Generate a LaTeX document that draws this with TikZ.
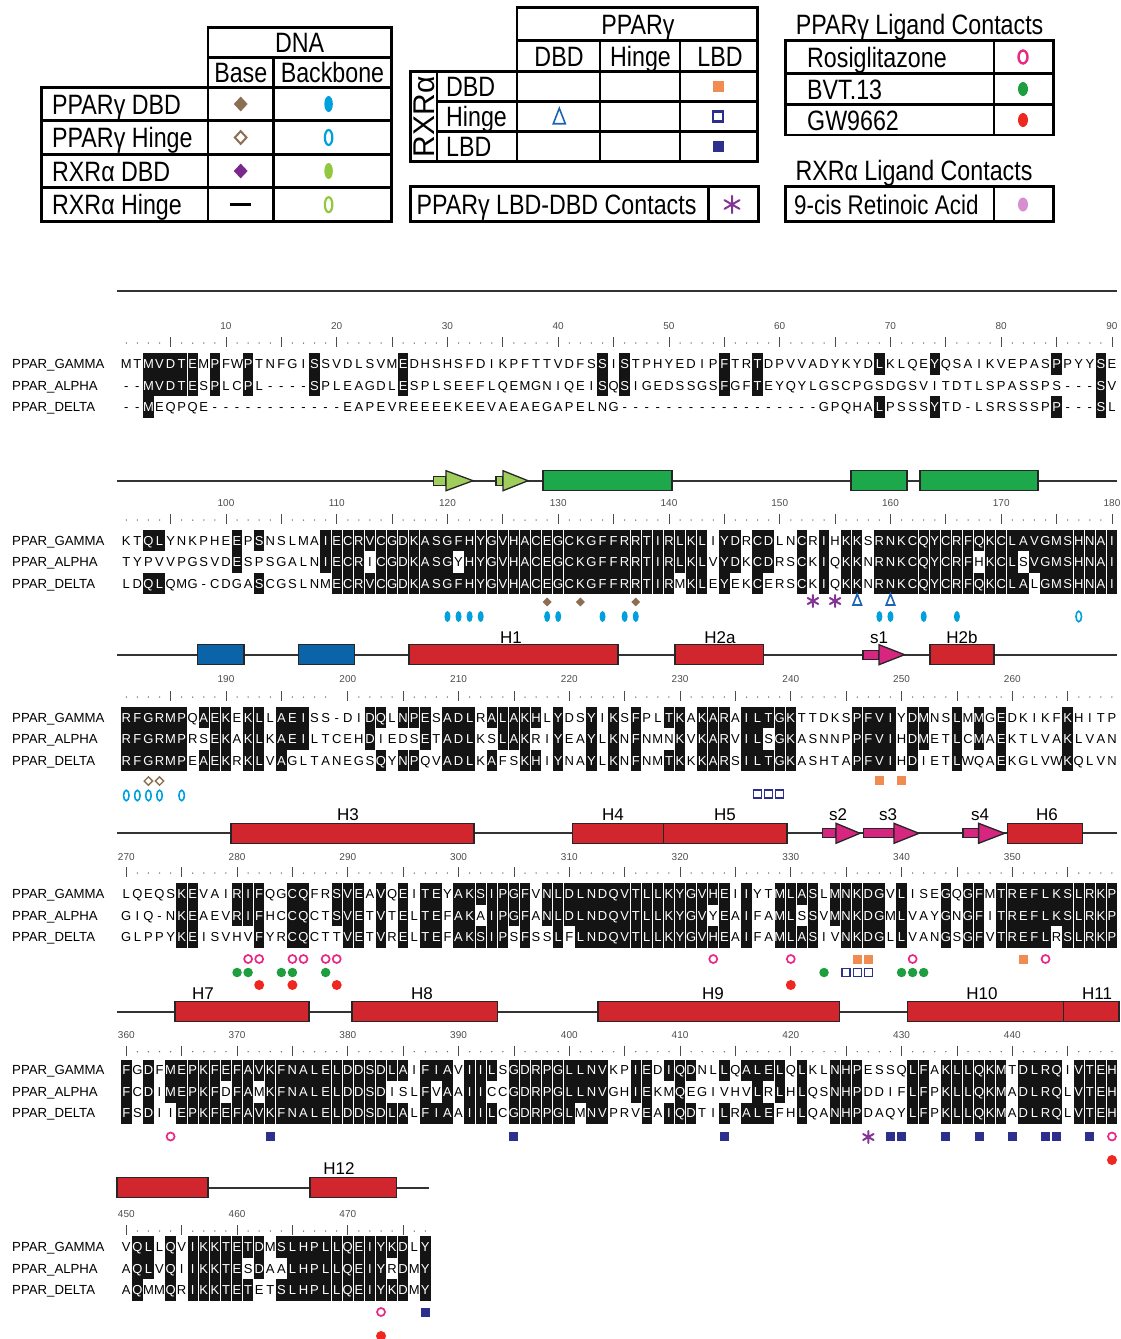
\documentclass[tikz,border=0pt]{standalone}
\usepackage{fontspec}
\setmainfont{Liberation Sans}
\newfontfamily\lgdfont[FakeStretch=0.83]{Liberation Sans}
\usepackage{xstring}
\usetikzlibrary{shapes.geometric}

\definecolor{basebrown}{RGB}{140,110,82}
\definecolor{bbcyan}{RGB}{0,160,220}
\definecolor{rxrpurple}{RGB}{122,40,140}
\definecolor{rxrgreen}{RGB}{146,200,62}
\definecolor{ifaceorange}{RGB}{240,140,82}
\definecolor{ifaceblue}{RGB}{28,100,178}
\definecolor{ifacenavy}{RGB}{44,48,140}
\definecolor{ligpink}{RGB}{232,40,132}
\definecolor{liggreen}{RGB}{30,158,62}
\definecolor{ligred}{RGB}{238,40,32}
\definecolor{ligmauve}{RGB}{214,142,206}
\definecolor{ldpurple}{RGB}{132,52,150}
\definecolor{helixred}{RGB}{210,38,46}
\definecolor{dbdgreen}{RGB}{30,168,76}
\definecolor{strandgreen}{RGB}{160,206,92}
\definecolor{hingeblue}{RGB}{12,100,168}
\definecolor{strandpink}{RGB}{214,38,128}

\tikzset{
  lgd/.style={font=\lgdfont\fontsize{28}{28}\selectfont, inner sep=0, anchor=base},
  lgdline/.style={line width=2.8},
  seqname/.style={font=\fontsize{13.2}{13.2}\selectfont, anchor=base west, inner sep=0},
  res/.style={font=\fontsize{13}{13}\selectfont, anchor=base, inner sep=0},
  hl/.style={fill=black!92},
  rtick/.style={line width=0.8, black!70},
  rdot/.style={fill=black!60},
  rnum/.style={font=\fontsize{10}{10}\selectfont, text=black!70, inner sep=0},
  track/.style={line width=2, black!80},
  sselt/.style={draw=black!85, line width=1.3},
  sslabel/.style={font=\fontsize{17}{17}\selectfont, inner sep=0, anchor=base},
  basefill/.style={diamond, fill=basebrown, inner sep=0, minimum width=9, minimum height=9},
  baseopen/.style={diamond, draw=basebrown, line width=1.4, fill=white, inner sep=0, minimum width=9, minimum height=9},
  bbfill/.style={ellipse, fill=bbcyan, inner sep=0, minimum width=6, minimum height=11},
  bbopen/.style={ellipse, draw=bbcyan, line width=1.6, inner sep=0, minimum width=5.5, minimum height=10.5},
  sqorange/.style={rectangle, fill=ifaceorange, inner sep=0, minimum size=9},
  sqnavy/.style={rectangle, fill=ifacenavy, inner sep=0, minimum size=9},
  sqnavyopen/.style={rectangle, draw=ifacenavy, line width=1.5, inner sep=0, minimum size=8},
  rosi/.style={circle, draw=ligpink, line width=1.7, inner sep=0, minimum size=8},
  bvt/.style={circle, fill=liggreen, inner sep=0, minimum size=9.5},
  gw/.style={circle, fill=ligred, inner sep=0, minimum size=10},
  pics/ldstar/.style={code={\draw[ldpurple, line width=2, line cap=round] (0,-6) -- (0,6) (-5.2,-3) -- (5.2,3) (-5.2,3) -- (5.2,-3);}},
  pics/hingetri/.style={code={\draw[ifaceblue, line width=1.6] (-4.3,5) -- (0,-6) -- (4.3,5) -- cycle;}}
}

\newcommand{\colx}[1]{126.3+(#1-1)*11.075}
\newcommand{\residue}[4]{%
  \ifnum#4=1
    \fill[hl] (#1-5.2,#2-10.75) rectangle (#1+5.2,#2+10.75);
    \node[res,text=white] at (#1,#2+4.6) {#3};
  \else
    \node[res] at (#1,#2+4.6) {#3};
  \fi}
% one alignment block: gamma row y, then the three sequences
\newcommand{\alnblock}[4]{%
  \node[seqname] at (12,#1+4.6) {PPAR\_GAMMA};
  \node[seqname] at (12,#1+26.1) {PPAR\_ALPHA};
  \node[seqname] at (12,#1+47.6) {PPAR\_DELTA};
  \StrLen{#2}[\ncols]%
  \foreach \cl in {1,...,\ncols}{%
    \pgfmathsetmacro{\xc}{\colx{\cl}}%
    \StrChar{#2}{\cl}[\rg]\StrChar{#3}{\cl}[\ra]\StrChar{#4}{\cl}[\rd]%
    \def\ka{0}\def\kd{0}\def\kg{0}%
    \ifx\rg\ra\def\ka{1}\def\kg{1}\fi
    \ifx\rg\rd\def\kd{1}\def\kg{1}\fi
    \residue{\xc}{#1}{\rg}{\kg}%
    \residue{\xc}{#1+21.5}{\ra}{\ka}%
    \residue{\xc}{#1+43}{\rd}{\kd}%
  }}
% ruler y, number y, first number, columns, gap column
\newcommand{\seqruler}[5]{%
  \foreach \cl in {1,...,#4}{%
    \pgfmathsetmacro{\xc}{\colx{\cl}}%
    \pgfmathtruncatemacro{\rpos}{#3+\cl-1-(\cl>#5)}%
    \pgfmathtruncatemacro{\mfive}{mod(\rpos,5)}%
    \pgfmathtruncatemacro{\mten}{mod(\rpos,10)}%
    \ifnum\cl=#5\relax\else
      \ifnum\mfive=0
        \draw[rtick] (\xc,#1-5) -- (\xc,#1+5);
        \ifnum\mten=0 \node[rnum] at (\xc,#2) {\rpos};\fi
      \else
        \fill[rdot] (\xc,#1+1) circle (0.75);
      \fi
    \fi}}
\newcommand{\helixbox}[4]{\draw[sselt,fill=#4] (#1,#3-10) rectangle (#2,#3+10);}
\newcommand{\strandarrow}[5]{%
  \draw[sselt,fill=#5] (#1,#4-4.5) rectangle (#2,#4+4.5);
  \draw[sselt,fill=#5] (#2,#4-10) -- (#3,#4) -- (#2,#4+10) -- cycle;}
\newcommand{\contactmarks}[3]{\foreach \cl in {#3}{\node[#1] at ({\colx{\cl}},#2) {};}}

\begin{document}
\begin{tikzpicture}[x=1pt, y=-1pt]
\useasboundingbox (0,0) rectangle (1120,1339);

% DNA contacts legend
\draw[lgdline] (208,27.7) rectangle (391.4,57.3);
\draw[lgdline] (208,57.3) rectangle (391.4,87.3);
\draw[lgdline] (273.6,57.3) -- (273.6,87.3);
\draw[lgdline] (41.4,87.3) rectangle (391.4,221.7);
\foreach \y in {120.7,154.3,187.7} \draw[lgdline] (41.4,\y) -- (391.4,\y);
\foreach \x in {208,273.6} \draw[lgdline] (\x,87.3) -- (\x,221.7);
\node[lgd] at (299.7,52.5) {DNA};
\node[lgd] at (240.8,82.3) {Base};
\node[lgd] at (332.5,82.3) {Backbone};
\foreach \y/\lab in {104/PPARγ DBD, 137.5/PPARγ Hinge, 171/RXRα DBD, 204.7/RXRα Hinge}
  \node[lgd, anchor=base west] at (52,\y+10) {\lab};
\node[basefill, minimum width=14, minimum height=15] at (240.7,104) {};
\node[bbfill, minimum width=8.5, minimum height=16] at (328.6,104) {};
\node[baseopen, minimum width=12.5, minimum height=13.5, line width=2] at (240.7,137.5) {};
\node[bbopen, minimum width=7.5, minimum height=15, line width=2.2] at (328.6,137.5) {};
\node[basefill, fill=rxrpurple, minimum width=14, minimum height=15] at (240.7,171) {};
\node[bbfill, fill=rxrgreen, minimum width=8.5, minimum height=16] at (328.6,171) {};
\draw[line width=2.8] (230,204.7) -- (251,204.7);
\node[bbopen, draw=rxrgreen, minimum width=7.5, minimum height=15, line width=2.2] at (328.6,204.7) {};

% PPARγ / RXRα interface legend
\draw[lgdline] (517,7.3) rectangle (757.5,40.7);
\draw[lgdline] (517,40.7) rectangle (757.5,71.7);
\draw[lgdline] (410.7,71.7) rectangle (757.5,161.7);
\foreach \x in {600,680} \draw[lgdline] (\x,40.7) -- (\x,161.7);
\foreach \x in {437,517} \draw[lgdline] (\x,71.7) -- (\x,161.7);
\foreach \y in {101.7,131.7} \draw[lgdline] (437,\y) -- (757.5,\y);
\node[lgd] at (638,34) {PPARγ};
\foreach \x/\lab in {559/DBD, 640.5/Hinge, 720/LBD} \node[lgd] at (\x,66.2) {\lab};
\node[lgd, anchor=center, rotate=90, font=\fontsize{30}{30}\selectfont] at (424,116.7) {RXRα};
\foreach \y/\lab in {86.7/DBD, 116.7/Hinge, 146.7/LBD}
  \node[lgd, anchor=base west] at (446,\y+10) {\lab};
\node[sqorange, minimum size=11] at (718,86.7) {};
\pic[scale=1.4] at (559.3,116.7) {hingetri};
\node[sqnavyopen, minimum size=10, line width=2.4] at (718,116.5) {};
\node[sqnavy, minimum size=11] at (718,146.7) {};
\draw[lgdline] (410.7,186.7) rectangle (758.6,221.7);
\draw[lgdline] (708.6,186.7) -- (708.6,221.7);
\node[lgd, anchor=base west] at (416.4,214.2) {PPARγ LBD-DBD Contacts};
\pic[scale=1.45] at (732,204.5) {ldstar};

% ligand legends
\node[lgd] at (919.6,34) {PPARγ Ligand Contacts};
\draw[lgdline] (785.7,40.7) rectangle (1053.6,135);
\foreach \y in {73.5,104.5} \draw[lgdline] (785.7,\y) -- (1053.6,\y);
\draw[lgdline] (994,40.7) -- (994,135);
\foreach \y/\lab in {57/Rosiglitazone, 89/BVT.13, 120/GW9662}
  \node[lgd, anchor=base west] at (807,\y+10) {\lab};
\node[rosi, ellipse, minimum width=9, minimum height=13, line width=2.4] at (1023,57) {};
\node[bvt, ellipse, minimum width=10, minimum height=14] at (1023,89) {};
\node[gw, ellipse, minimum width=10, minimum height=14] at (1023,120) {};
\node[lgd] at (914,180) {RXRα Ligand Contacts};
\draw[lgdline] (785.7,186.7) rectangle (1053.6,221.7);
\draw[lgdline] (994,186.7) -- (994,221.7);
\node[lgd, anchor=base west, font=\lgdfont\fontsize{27}{27}\selectfont] at (794,214) {9-cis Retinoic Acid};
\node[ellipse, fill=ligmauve, inner sep=0, minimum width=10, minimum height=14] at (1023,204.5) {};

% secondary structure tracks
\draw[track] (117,291) -- (1117,291);
\draw[track] (117,480.7) -- (1117,480.7);
\strandarrow{433.5}{446}{473}{480.7}{strandgreen}
\strandarrow{496}{503}{528}{480.7}{strandgreen}
\helixbox{543}{672}{480.7}{dbdgreen}
\helixbox{851}{907}{480.7}{dbdgreen}
\helixbox{920}{1038}{480.7}{dbdgreen}

\draw[track] (117,654.7) -- (1117,654.7);
\helixbox{197.5}{244}{654.7}{hingeblue}
\helixbox{298.6}{354.6}{654.7}{hingeblue}
\helixbox{409}{618}{654.7}{helixred}
\helixbox{675}{763.6}{654.7}{helixred}
\strandarrow{863}{879}{904.6}{654.7}{strandpink}
\helixbox{930}{994}{654.7}{helixred}
\foreach \x/\lab in {511/H1, 720/H2a, 879/s1, 962/H2b} \node[sslabel] at (\x,643) {\lab};

\draw[track] (117,833.3) -- (1117,833.3);
\helixbox{231}{474}{833.3}{helixred}
\helixbox{572.5}{663.6}{833.3}{helixred}
\helixbox{663.6}{787}{833.3}{helixred}
\strandarrow{822.5}{836}{860}{833.3}{strandpink}
\strandarrow{863.6}{894}{919}{833.3}{strandpink}
\strandarrow{963}{978.6}{1004.6}{833.3}{strandpink}
\helixbox{1007.5}{1082.5}{833.3}{helixred}
\foreach \x/\lab in {348/H3, 613/H4, 725/H5, 838/s2, 888/s3, 980/s4, 1047/H6} \node[sslabel] at (\x,820) {\lab};

\draw[track] (117,1011.5) -- (1117,1011.5);
\helixbox{175}{309}{1011.5}{helixred}
\helixbox{352}{497.5}{1011.5}{helixred}
\helixbox{598}{839.6}{1011.5}{helixred}
\helixbox{907.5}{1063.6}{1011.5}{helixred}
\helixbox{1063.6}{1119}{1011.5}{helixred}
\foreach \x/\lab in {203/H7, 422/H8, 713/H9, 982/H10, 1097/H11} \node[sslabel] at (\x,999) {\lab};

\draw[track] (117,1187.7) -- (429,1187.7);
\helixbox{117}{208}{1187.7}{helixred}
\helixbox{310}{396.7}{1187.7}{helixred}
\node[sslabel] at (339,1174) {H12};

% rulers
\seqruler{342}{325.7}{1}{90}{999}
\seqruler{519}{503}{91}{90}{999}
\seqruler{696}{679}{181}{90}{20}
\seqruler{872}{856.7}{270}{90}{999}
\seqruler{1050.7}{1035}{360}{90}{999}
\seqruler{1230}{1214}{450}{28}{999}

% alignment
\alnblock{364}{MTMVDTEMPFWPTNFGISSVDLSVMEDHSHSFDIKPFTTVDFSSISTPHYEDIPFTRTDPVVADYKYDLKLQEYQSAIKVEPASPPYYSE}{--MVDTESPLCPL----SPLEAGDLESPLSEEFLQEMGNIQEISQSIGEDSSGSFGFTEYQYLGSCPGSDGSVITDTLSPASSPS---SV}{--MEQPQE------------EAPEVREEEEKEEVAEAEGAPELNG------------------GPQHALPSSSYTD-LSRSSSPP---SL}
\alnblock{540.7}{KTQLYNKPHEEPSNSLMAIECRVCGDKASGFHYGVHACEGCKGFFRRTIRLKLIYDRCDLNCRIHKKSRNKCQYCRFQKCLAVGMSHNAI}{TYPVVPGSVDESPSGALNIECRICGDKASGYHYGVHACEGCKGFFRRTIRLKLVYDKCDRSCKIQKKNRNKCQYCRFHKCLSVGMSHNAI}{LDQLQMG-CDGASCGSLNMECRVCGDKASGFHYGVHACEGCKGFFRRTIRMKLEYEKCERSCKIQKKNRNKCQYCRFQKCLALGMSHNAI}
\alnblock{717.5}{RFGRMPQAEKEKLLAEISS-DIDQLNPESADLRALAKHLYDSYIKSFPLTKAKARAILTGKTTDKSPFVIYDMNSLMMGEDKIKFKHITP}{RFGRMPRSEKAKLKAEILTCEHDIEDSETADLKSLAKRIYEAYLKNFNMNKVKARVILSGKASNNPPFVIHDMETLCMAEKTLVAKLVAN}{RFGRMPEAEKRKLVAGLTANEGSQYNPQVADLKAFSKHIYNAYLKNFNMTKKKARSILTGKASHTAPFVIHDIETLWQAEKGLVWKQLVN}
\alnblock{894.2}{LQEQSKEVAIRIFQGCQFRSVEAVQEITEYAKSIPGFVNLDLNDQVTLLKYGVHEIIYTMLASLMNKDGVLISEGQGFMTREFLKSLRKP}{GIQ-NKEAEVRIFHCCQCTSVETVTELTEFAKAIPGFANLDLNDQVTLLKYGVYEAIFAMLSSVMNKDGMLVAYGNGFITREFLKSLRKP}{GLPPYKEISVHVFYRCQCTTVETVRELTEFAKSIPSFSSLFLNDQVTLLKYGVHEAIFAMLASIVNKDGLLVANGSGFVTREFLRSLRKP}
\alnblock{1070.3}{FGDFMEPKFEFAVKFNALELDDSDLAIFIAVIILSGDRPGLLNVKPIEDIQDNLLQALELQLKLNHPESSQLFAKLLQKMTDLRQIVTEH}{FCDIMEPKFDFAMKFNALELDDSDISLFVAAIICCGDRPGLLNVGHIEKMQEGIVHVLRLHLQSNHPDDIFLFPKLLQKMADLRQLVTEH}{FSDIIEPKFEFAVKFNALELDDSDLALFIAAIILCGDRPGLMNVPRVEAIQDTILRALEFHLQANHPDAQYLFPKLLQKMADLRQLVTEH}
\alnblock{1247}{VQLLQVIKKTETDMSLHPLLQEIYKDLY}{AQLVQIIKKTESDAALHPLLQEIYRDMY}{AQMMQRIKKTETETSLHPLLQEIYKDMY}

% contact marks under the alignment
\contactmarks{basefill}{602}{39,42,47}
\contactmarks{bbfill}{616.5}{30,31,32,33,39,40,44,46,47,69,70,73,76}
\contactmarks{bbopen}{616.5}{87}
\foreach \cl in {63,65} \pic at ({\colx{\cl}},601) {ldstar};
\foreach \cl in {67,70} \pic at ({\colx{\cl}},600) {hingetri};
\contactmarks{baseopen}{781}{3,4}
\contactmarks{bbopen}{795.5}{1,2,3,4,6}
\contactmarks{sqorange}{780.5}{69,71}
\contactmarks{sqnavyopen}{794}{58,59,60}
\contactmarks{rosi}{959}{12,13,16,17,19,20,54,61,72,84}
\contactmarks{sqorange}{959}{67,68,82}
\contactmarks{bvt}{972.5}{11,12,15,16,19,64,71,72,73}
\contactmarks{sqnavyopen}{972.5}{66,67,68}
\contactmarks{gw}{985}{13,16,20,61}
\contactmarks{rosi}{1136.5}{5,90}
\contactmarks{sqnavy}{1136.5}{14,36,55,70,71,75,78,81,84,85,88}
\pic at ({\colx{68}},1137) {ldstar};
\contactmarks{gw}{1160}{90}
\contactmarks{rosi}{1312}{24}
\contactmarks{sqnavy}{1312}{28}
\contactmarks{gw}{1336}{24}
\end{tikzpicture}
\end{document}
